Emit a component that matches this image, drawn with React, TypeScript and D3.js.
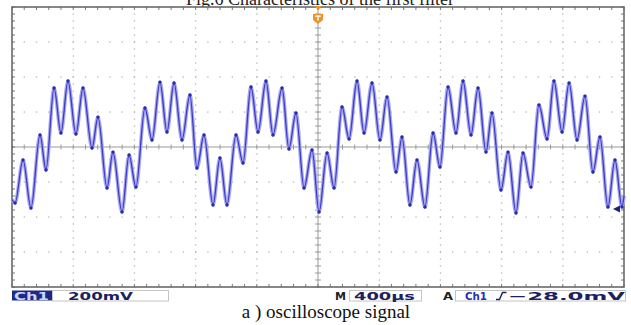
import React, { useEffect, useRef } from 'react';
import * as d3 from 'd3';

// Trace: time in µs (400 µs/div), level in mV (200 mV/div)
const timeUs = [
  0, 20, 72, 124, 183, 222, 275, 320, 366, 418, 464, 523, 562, 621, 660, 719, 765, 810,
  869, 915, 967, 1013, 1059, 1111, 1163, 1209, 1255, 1314, 1359, 1405, 1464, 1510, 1562,
  1608, 1660, 1706, 1765, 1810, 1856, 1909, 1961, 2007, 2059, 2105, 2157, 2203, 2255,
  2301, 2353, 2405, 2451, 2510, 2549, 2601, 2647, 2699, 2752, 2797, 2850, 2902, 2948,
  3000, 3046, 3098, 3137, 3196, 3242, 3294, 3340, 3392, 3444, 3497, 3542, 3595, 3641,
  3693, 3745, 3797, 3843, 3895, 3941, 3987, 4000,
];
const levelMv = [
  -300, -320, -74, -349, 69, -131, 337, 80, 377, 74, 337, -6, 171, -234, -29, -371, -46, -229,
  223, 40, 371, 86, 366, 40, 297, -120, 69, -331, -63, -331, 69, -91, 343,
  86, 377, 69, 337, -11, 194, -234, -17, -371, -34, -234, 229, 46, 377,
  80, 366, 40, 286, -143, 57, -331, -74, -343, 80, -114, 343, 80, 377,
  69, 337, -29, 194, -246, -29, -377, -34, -229, 240, 46, 377, 86, 366,
  40, 291, -143, 57, -343, -74, -343, -280,
];

const timeDomain = [0, 4000];
const levelDomain = [-800, 800];
const timeDiv = 400;
const levelDiv = 200;

const title = 'Fig.6 Characteristics of the first filter';
const caption = 'a ) oscilloscope signal';

export default function App() {
  const ref = useRef<SVGSVGElement>(null);

  useEffect(() => {
    if (!ref.current) return;
    const svg = d3.select(ref.current);
    svg.selectAll('*').remove();

    const x = d3.scaleLinear().domain(timeDomain).range([12, 624]);
    const y = d3.scaleLinear().domain(levelDomain).range([287, 7]);

    // Title (cropped at top)
    svg.append('text')
      .attr('x', 320).attr('y', 5)
      .attr('text-anchor', 'middle')
      .attr('font-family', '"Liberation Serif", serif')
      .attr('font-size', 18)
      .attr('fill', '#222')
      .text(title);

    svg.append('rect')
      .attr('x', x(0)).attr('y', y(800))
      .attr('width', x(4000) - x(0)).attr('height', y(-800) - y(800))
      .attr('fill', '#fff');

    const grid = svg.append('g');
    const majorT = d3.range(timeDomain[0] + timeDiv, timeDomain[1], timeDiv);
    const majorV = d3.range(levelDomain[0] + levelDiv, levelDomain[1], levelDiv);
    const minorT = d3.range(timeDomain[0], timeDomain[1] + 1, timeDiv / 5);
    const minorV = d3.range(levelDomain[0], levelDomain[1] + 1, levelDiv / 5);

    // dotted grid
    majorT.filter(t => t !== 2000).forEach(t => {
      minorV.forEach(v => {
        grid.append('rect').attr('x', x(t) - 0.6).attr('y', y(v) - 0.6)
          .attr('width', 1.3).attr('height', 1.3).attr('fill', '#b4b4b4');
      });
    });
    majorV.filter(v => v !== 0).forEach(v => {
      minorT.forEach(t => {
        grid.append('rect').attr('x', x(t) - 0.6).attr('y', y(v) - 0.6)
          .attr('width', 1.3).attr('height', 1.3).attr('fill', '#b4b4b4');
      });
    });

    // centre axes
    grid.append('line').attr('x1', x(0)).attr('x2', x(4000)).attr('y1', y(0)).attr('y2', y(0))
      .attr('stroke', '#9a9a9a').attr('stroke-width', 1);
    grid.append('line').attr('x1', x(2000)).attr('x2', x(2000)).attr('y1', y(800)).attr('y2', y(-800))
      .attr('stroke', '#9a9a9a').attr('stroke-width', 1);
    minorT.forEach(t => {
      grid.append('line').attr('x1', x(t)).attr('x2', x(t)).attr('y1', y(0) - 2.5).attr('y2', y(0) + 2.5)
        .attr('stroke', '#9a9a9a');
      grid.append('line').attr('x1', x(t)).attr('x2', x(t)).attr('y1', y(800)).attr('y2', y(800) + 3)
        .attr('stroke', '#777');
      grid.append('line').attr('x1', x(t)).attr('x2', x(t)).attr('y1', y(-800)).attr('y2', y(-800) - 3)
        .attr('stroke', '#777');
    });
    minorV.forEach(v => {
      grid.append('line').attr('x1', x(2000) - 3).attr('x2', x(2000) + 3).attr('y1', y(v)).attr('y2', y(v))
        .attr('stroke', '#9a9a9a');
      grid.append('line').attr('x1', x(0)).attr('x2', x(0) + 3).attr('y1', y(v)).attr('y2', y(v))
        .attr('stroke', '#777');
      grid.append('line').attr('x1', x(4000)).attr('x2', x(4000) - 3).attr('y1', y(v)).attr('y2', y(v))
        .attr('stroke', '#777');
    });

    // frame
    svg.append('rect')
      .attr('x', x(0)).attr('y', y(800))
      .attr('width', x(4000) - x(0)).attr('height', y(-800) - y(800))
      .attr('fill', 'none').attr('stroke', '#6a6a6a').attr('stroke-width', 1.6);

    // trace
    const pts = timeUs.map((t, i) => [t, levelMv[i]] as [number, number]);
    const line = d3.line<[number, number]>()
      .x(d => x(d[0])).y(d => y(d[1]))
      .curve(d3.curveMonotoneX);
    svg.append('path').attr('d', line(pts)).attr('fill', 'none')
      .attr('stroke', '#a8a8ee').attr('stroke-width', 3.6).attr('stroke-linejoin', 'round');
    svg.append('path').attr('d', line(pts)).attr('fill', 'none')
      .attr('stroke', '#3b3bc4').attr('stroke-width', 1.3).attr('stroke-linejoin', 'round');
    svg.append('g').selectAll('circle').data(pts.slice(1, -1)).enter().append('circle')
      .attr('cx', d => x(d[0])).attr('cy', d => y(d[1])).attr('r', 1.7)
      .attr('fill', '#2a2ab4');

    // trigger position marker
    const tx = x(2000);
    svg.append('path')
      .attr('d', `M${tx - 4},${y(800) - 1}L${tx + 4},${y(800) - 1}L${tx},${y(800) + 3}Z`)
      .attr('fill', '#f0922a');
    svg.append('path')
      .attr('d', `M${tx - 5},14h10v6l-5,4l-5,-4Z`)
      .attr('fill', '#f0922a');
    svg.append('rect').attr('x', tx - 2.8).attr('y', 15.5).attr('width', 5.6).attr('height', 1.4).attr('fill', '#fff');
    svg.append('rect').attr('x', tx - 0.7).attr('y', 15.5).attr('width', 1.4).attr('height', 5).attr('fill', '#fff');

    // trigger level arrow at right
    svg.append('path').attr('d', 'M613,209L620,205.5L620,212.5Z').attr('fill', '#1c2470');

    // status bar
    const bar = svg.append('g').attr('font-family', '"DejaVu Sans", Verdana, sans-serif')
      .attr('font-weight', 'bold').attr('font-size', 10);
    bar.append('rect').attr('x', 12).attr('y', 290.5).attr('width', 40).attr('height', 10).attr('fill', '#1c2a86');
    bar.append('text').attr('x', 14).attr('y', 299.5).attr('fill', '#c8d6ff')
      .attr('textLength', 35).attr('lengthAdjust', 'spacingAndGlyphs').text('Ch1');
    bar.append('rect').attr('x', 52.5).attr('y', 290.5).attr('width', 116).attr('height', 10.5)
      .attr('fill', '#fff').attr('stroke', '#c4c4c4');
    bar.append('text').attr('x', 68).attr('y', 299.5).attr('fill', '#1c2260')
      .attr('textLength', 65).attr('lengthAdjust', 'spacingAndGlyphs').text('200mV');
    bar.append('text').attr('x', 335).attr('y', 299.5).attr('fill', '#222')
      .attr('textLength', 11).attr('lengthAdjust', 'spacingAndGlyphs').text('M');
    bar.append('rect').attr('x', 349.5).attr('y', 290.5).attr('width', 72).attr('height', 10.5)
      .attr('fill', '#fff').attr('stroke', '#c4c4c4');
    bar.append('text').attr('x', 354).attr('y', 299.5).attr('fill', '#1c2260')
      .attr('textLength', 61).attr('lengthAdjust', 'spacingAndGlyphs').text('400µs');
    bar.append('text').attr('x', 443).attr('y', 299.5).attr('fill', '#222')
      .attr('textLength', 10).attr('lengthAdjust', 'spacingAndGlyphs').text('A');
    bar.append('rect').attr('x', 455.5).attr('y', 290.5).attr('width', 170).attr('height', 10.5)
      .attr('fill', '#fff').attr('stroke', '#c4c4c4');
    bar.append('text').attr('x', 465).attr('y', 299.5).attr('fill', '#2233b0')
      .attr('textLength', 22).attr('lengthAdjust', 'spacingAndGlyphs').text('Ch1');
    bar.append('path').attr('d', 'M496,299.5h3.5l3,-7h4').attr('fill', 'none')
      .attr('stroke', '#1c2260').attr('stroke-width', 1.4);
    bar.append('text').attr('x', 508).attr('y', 299.5).attr('fill', '#1c2260')
      .attr('textLength', 117).attr('lengthAdjust', 'spacingAndGlyphs').text('−28.0mV');

    // caption
    svg.append('text')
      .attr('x', 326).attr('y', 318)
      .attr('text-anchor', 'middle')
      .attr('font-family', '"Liberation Serif", serif')
      .attr('font-size', 19)
      .attr('fill', '#111')
      .text(caption);
  }, []);

  return (
    <svg ref={ref} width={631} height={325}
      style={{ position: 'absolute', left: 0, top: 0, background: '#fff' }} />
  );
}
